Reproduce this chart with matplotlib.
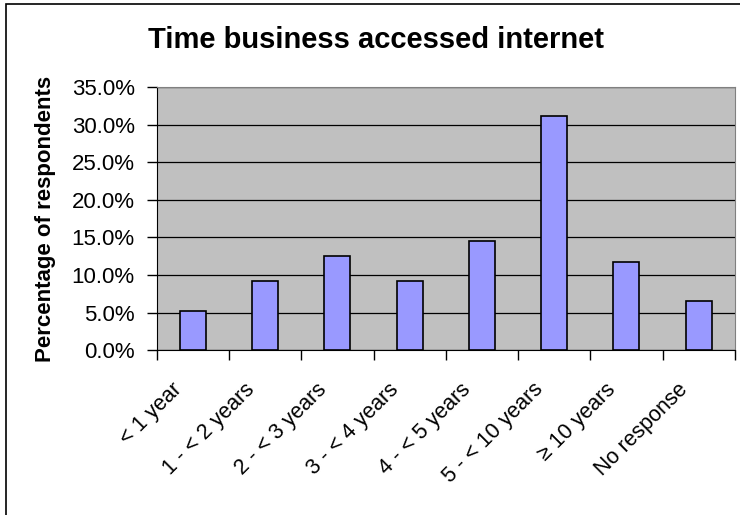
import matplotlib.pyplot as plt
from matplotlib.patches import Rectangle
from matplotlib.ticker import PercentFormatter, FixedLocator
from matplotlib.transforms import ScaledTranslation

# Data
categories = ["< 1 year", "1 - < 2 years", "2 - < 3 years", "3 - < 4 years",
              "4 - < 5 years", "5 - < 10 years", "\u2265 10 years", "No response"]
percentages = [5.2, 9.2, 12.5, 9.2, 14.5, 31.2, 11.7, 6.5]

plt.rcParams["font.family"] = ["Liberation Sans", "DejaVu Sans"]

fig = plt.figure(figsize=(7.4, 5.15), dpi=100)
ax = fig.add_axes([0.212, 0.320, 0.781, 0.511])

# outer chart border (cropped at right/bottom like the source)
fig.patches.append(Rectangle((6 / 740, -0.05), 1.05, 1 - 4 / 515 + 0.05,
                             transform=fig.transFigure, fill=False,
                             edgecolor="black", linewidth=1.2))

x = range(len(categories))
ax.set_facecolor("#C0C0C0")
ax.bar(x, percentages, width=0.36, color="#9999FF", edgecolor="black",
       linewidth=1.2, zorder=3)

ax.set_xlim(-0.5, len(categories) - 0.5)
ax.set_ylim(0, 35)
ax.set_yticks(range(0, 36, 5))
ax.yaxis.set_major_formatter(PercentFormatter(decimals=1))
ax.grid(axis="y", color="black", linewidth=0.9, zorder=1)

# tick marks between categories, labels at centres
ax.xaxis.set_major_locator(FixedLocator([i - 0.5 for i in range(len(categories) + 1)]))
ax.xaxis.set_minor_locator(FixedLocator(list(x)))
ax.set_xticklabels([])
ax.set_xticklabels(categories, minor=True, rotation=45, ha="right", va="center",
                   rotation_mode="anchor", fontsize=15.5)
ax.tick_params(axis="x", which="minor", length=0, pad=0)
ax.tick_params(axis="x", which="major", length=7, width=1)
ax.tick_params(axis="y", length=7, width=1, labelsize=16, pad=9)

shift = ScaledTranslation(-0.14, -0.36, fig.dpi_scale_trans)
for lbl in ax.get_xticklabels(minor=True):
    lbl.set_transform(lbl.get_transform() + shift)

for side in ["top", "right"]:
    ax.spines[side].set_color("#808080")
ax.spines["left"].set_color("black")
ax.spines["bottom"].set_color("black")

ax.set_ylabel("Percentage of respondents", fontsize=16, fontweight="bold")
ax.yaxis.set_label_coords(-0.175, 0.5)
fig.text(0.508, 0.922, "Time business accessed internet", ha="center",
         va="center", fontsize=21, fontweight="bold")

fig.savefig("out.png", dpi=100)
